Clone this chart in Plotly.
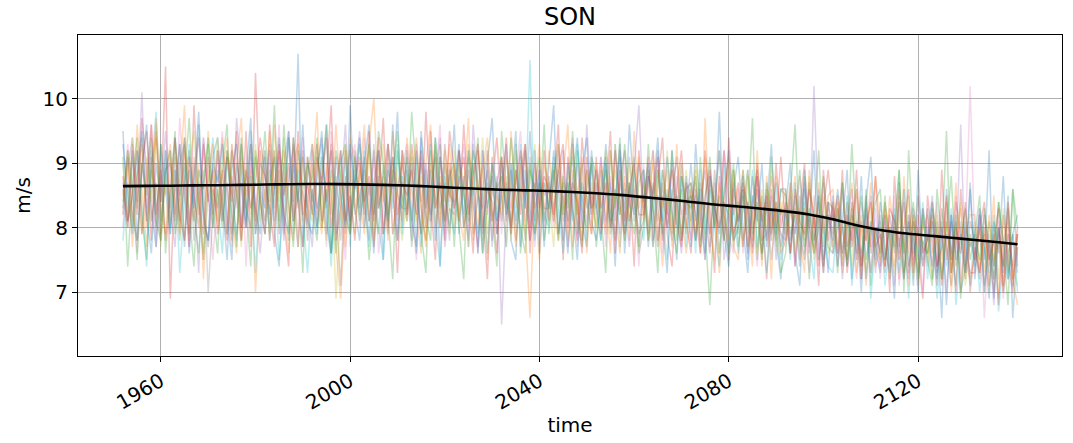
import plotly.graph_objects as go

years = list(range(1952, 2142))

member_01 = [9.5, 8.1, 9.2, 7.8, 8.9, 9.6, 8.3, 7.7, 9.3, 8.6,
             7.9, 9.4, 8.5, 9.0, 7.6, 8.7, 9.8, 8.2, 7.8, 9.1,
             9.4, 8.4, 7.5, 8.9, 9.3, 8.0, 8.8, 9.7, 7.9, 8.6,
             8.3, 9.2, 7.9, 7.4, 9.0, 9.5, 8.4, 10.7, 7.7, 8.8,
             9.3, 8.0, 8.6, 9.6, 7.6, 8.4, 9.2, 7.9, 9.9, 8.3,
             7.8, 9.0, 9.6, 8.2, 8.8, 7.5, 9.3, 8.6, 9.8, 8.0,
             9.2, 8.1, 7.7, 9.5, 8.6, 8.2, 9.4, 7.4, 9.0, 8.5,
             9.6, 7.9, 8.8, 7.7, 9.3, 8.5, 7.6, 9.0, 9.7, 8.1,
             8.6, 9.3, 7.8, 7.5, 9.1, 8.3, 9.5, 8.1, 8.9, 7.7,
             9.0, 9.9, 7.9, 8.5, 7.6, 8.7, 9.4, 8.1, 7.7, 9.2,
             8.3, 7.8, 9.3, 8.6, 7.4, 9.1, 8.0, 9.6, 8.5, 7.7,
             8.9, 7.7, 8.5, 9.4, 8.0, 7.3, 9.2, 8.4, 7.8, 8.8,
             7.7, 9.3, 8.2, 7.5, 8.8, 8.0, 9.8, 7.9, 7.4, 8.6,
             9.1, 8.0, 7.3, 8.4, 8.9, 7.6, 8.3, 9.3, 7.8, 7.2,
             8.3, 9.0, 7.6, 7.1, 8.6, 8.0, 9.2, 7.5, 8.2, 7.3,
             8.5, 7.4, 8.1, 8.9, 7.2, 8.0, 7.0, 8.4, 9.1, 7.7,
             7.3, 8.4, 7.8, 6.9, 8.7, 7.6, 8.1, 7.1, 8.9, 7.5,
             8.3, 7.2, 7.9, 6.6, 8.6, 7.5, 8.1, 7.0, 7.4, 8.7,
             7.2, 8.2, 7.5, 9.2, 6.9, 8.0, 7.3, 8.5, 6.6, 7.7]

member_02 = [8.2, 9.2, 8.0, 9.6, 8.6, 7.7, 9.0, 9.4, 8.1, 8.8,
             9.3, 8.2, 8.8, 9.9, 7.8, 9.1, 8.4, 7.5, 9.5, 8.6,
             8.1, 9.4, 8.6, 7.7, 9.0, 9.7, 8.0, 8.8, 7.0, 8.5,
             9.2, 7.8, 9.6, 8.6, 8.3, 7.6, 9.0, 9.3, 8.1, 8.5,
             8.8, 9.8, 8.0, 8.6, 9.2, 7.7, 6.9, 8.3, 9.4, 9.0,
             8.5, 7.9, 9.3, 10.0, 8.3, 8.8, 7.8, 9.5, 8.6, 8.1,
             9.4, 8.6, 8.2, 7.6, 9.0, 9.6, 8.0, 8.8, 8.4, 9.3,
             8.0, 9.2, 8.6, 9.7, 7.8, 8.5, 9.0, 7.5, 8.8, 9.4,
             8.5, 7.7, 9.5, 8.3, 9.0, 8.0, 6.6, 8.6, 9.3, 8.2,
             9.2, 8.3, 7.8, 8.8, 9.6, 7.7, 8.5, 9.0, 7.6, 8.7,
             8.0, 9.0, 8.5, 7.6, 9.3, 8.2, 8.7, 7.8, 9.5, 8.3,
             8.7, 7.8, 9.2, 8.3, 7.4, 8.5, 8.0, 9.3, 8.2, 7.6,
             8.2, 8.9, 7.6, 9.7, 7.9, 8.5, 7.3, 8.4, 9.1, 7.7,
             7.5, 8.6, 8.1, 7.4, 9.2, 7.8, 8.4, 7.2, 8.8, 8.2,
             8.6, 7.6, 8.3, 7.8, 7.3, 8.9, 8.0, 8.5, 7.4, 8.2,
             7.7, 8.4, 7.3, 8.1, 8.7, 7.5, 8.2, 7.1, 8.0, 8.8,
             8.0, 7.4, 8.5, 7.8, 7.2, 8.8, 7.6, 8.2, 7.1, 8.3,
             7.4, 8.4, 7.7, 7.1, 8.1, 7.5, 8.7, 7.0, 7.9, 8.2,
             8.2, 7.3, 7.9, 7.4, 8.5, 6.9, 7.8, 8.1, 7.2, 6.8]

member_03 = [9.1, 7.4, 8.7, 9.4, 8.2, 7.5, 9.1, 8.0, 9.3, 7.6,
             8.5, 9.5, 7.8, 8.8, 9.7, 8.2, 7.6, 8.7, 9.4, 8.3,
             7.6, 9.0, 9.6, 7.9, 8.5, 9.3, 8.3, 7.4, 9.2, 8.6,
             9.5, 8.4, 9.9, 8.1, 9.0, 7.8, 9.4, 8.6, 7.3, 9.1,
             8.3, 7.8, 8.8, 9.6, 8.5, 7.6, 9.0, 9.3, 8.0, 8.6,
             9.3, 8.6, 7.5, 8.3, 9.5, 9.0, 8.2, 7.2, 9.2, 8.5,
             8.1, 9.8, 8.8, 7.9, 7.3, 9.2, 8.3, 9.3, 8.0, 8.8,
             9.0, 8.0, 7.2, 9.2, 8.5, 9.4, 7.8, 8.7, 8.2, 7.4,
             9.5, 8.6, 8.1, 9.3, 7.6, 8.5, 9.0, 7.9, 8.3, 9.6,
             7.9, 8.8, 9.3, 8.2, 8.7, 7.5, 9.2, 8.3, 8.0, 9.1,
             8.8, 8.2, 7.3, 9.2, 8.3, 9.4, 7.8, 8.5, 9.1, 7.6,
             8.0, 9.3, 8.3, 7.3, 8.9, 8.2, 9.2, 7.8, 8.6, 7.9,
             8.7, 7.8, 9.1, 8.0, 6.8, 8.4, 9.2, 8.2, 7.6, 8.9,
             7.9, 8.9, 8.2, 9.7, 7.5, 8.5, 7.8, 9.1, 8.1, 7.3,
             7.6, 8.5, 9.6, 7.8, 8.8, 7.2, 8.2, 9.2, 7.7, 8.4,
             8.3, 7.3, 8.7, 7.7, 9.3, 8.0, 7.4, 8.6, 7.1, 8.0,
             7.6, 8.5, 7.2, 8.0, 8.9, 7.0, 9.2, 7.8, 7.3, 8.2,
             7.5, 7.1, 8.6, 7.8, 9.5, 7.3, 8.2, 6.9, 8.0, 7.7,
             7.9, 8.5, 7.0, 8.1, 7.4, 8.4, 7.7, 6.8, 8.6, 7.4]

member_04 = [8.6, 8.0, 9.3, 8.2, 9.7, 8.9, 7.8, 9.5, 8.4, 10.5,
             6.9, 8.9, 8.1, 9.4, 7.7, 9.9, 8.4, 7.9, 9.1, 8.2,
             9.2, 8.3, 7.8, 9.3, 8.6, 8.0, 9.5, 7.7, 10.4, 8.4,
             7.9, 9.6, 8.6, 9.2, 8.1, 7.4, 9.4, 8.4, 7.7, 9.1,
             8.4, 9.3, 8.1, 8.8, 9.9, 7.8, 8.3, 9.2, 7.9, 8.7,
             9.1, 8.2, 9.5, 7.7, 8.6, 9.7, 8.0, 8.9, 7.3, 9.2,
             8.2, 9.3, 8.6, 7.9, 9.8, 8.4, 7.5, 9.1, 8.1, 9.5,
             8.9, 8.1, 9.6, 8.4, 7.6, 9.2, 8.3, 7.2, 9.1, 7.9,
             8.5, 9.4, 7.9, 8.9, 8.2, 9.3, 7.6, 8.7, 8.0, 9.2,
             8.1, 8.7, 9.6, 7.5, 9.1, 8.3, 7.8, 9.4, 8.5, 7.9,
             9.1, 7.9, 8.5, 9.5, 7.6, 8.9, 8.1, 8.7, 7.4, 9.2,
             8.3, 9.1, 7.8, 8.7, 9.4, 7.9, 7.4, 8.6, 9.2, 8.1,
             7.6, 8.6, 8.0, 9.2, 8.3, 7.3, 8.8, 7.8, 9.4, 8.2,
             8.7, 7.7, 8.4, 7.8, 9.0, 8.2, 7.2, 8.6, 8.0, 9.1,
             7.9, 8.7, 7.4, 8.3, 9.0, 7.6, 8.2, 7.1, 8.9, 7.8,
             8.4, 7.6, 8.9, 7.3, 8.0, 8.6, 7.2, 8.3, 7.7, 8.8,
             7.4, 8.2, 7.0, 8.8, 7.7, 8.4, 7.3, 8.1, 7.6, 6.9,
             8.5, 7.8, 7.1, 8.9, 7.5, 8.1, 7.0, 8.6, 7.7, 7.3,
             7.3, 8.0, 8.4, 7.1, 7.9, 6.8, 8.2, 7.5, 7.0, 7.9]

member_05 = [8.0, 8.9, 9.4, 8.4, 10.1, 8.1, 9.2, 7.7, 8.6, 9.5,
             8.3, 7.7, 9.0, 9.3, 8.1, 8.7, 7.3, 9.4, 8.5, 8.0,
             9.2, 8.1, 8.7, 7.8, 9.7, 8.9, 8.0, 9.1, 8.3, 7.6,
             8.6, 9.3, 8.1, 8.9, 7.8, 9.5, 8.4, 7.7, 9.1, 8.3,
             7.7, 8.9, 9.4, 8.3, 9.2, 7.9, 8.6, 9.6, 8.1, 8.8,
             9.5, 8.4, 7.8, 9.2, 8.3, 8.8, 9.3, 7.9, 8.6, 9.0,
             8.6, 7.8, 9.3, 8.4, 9.0, 8.1, 8.8, 9.4, 7.7, 8.3,
             8.2, 9.2, 8.5, 7.8, 9.6, 8.6, 7.9, 9.0, 7.7, 8.8,
             6.5, 8.3, 9.0, 8.1, 8.7, 9.3, 7.8, 8.5, 8.9, 8.0,
             8.8, 8.1, 8.6, 9.2, 7.7, 8.5, 9.0, 8.0, 9.6, 8.3,
             8.5, 9.1, 8.0, 8.7, 8.1, 9.2, 8.3, 7.7, 8.9, 9.9,
             8.2, 8.7, 9.2, 7.8, 8.5, 8.0, 9.0, 8.3, 7.6, 8.7,
             8.5, 7.8, 8.4, 8.9, 7.7, 8.2, 9.2, 7.5, 8.1, 8.7,
             8.1, 8.6, 7.6, 8.3, 8.8, 7.8, 7.9, 8.5, 7.5, 8.3,
             7.8, 8.5, 7.4, 8.2, 8.7, 7.7, 10.2, 8.0, 7.3, 8.4,
             7.6, 8.3, 7.2, 8.0, 8.6, 7.5, 8.1, 7.8, 8.5, 7.3,
             8.2, 7.5, 8.0, 7.1, 8.5, 7.7, 7.2, 8.3, 7.9, 7.4,
             7.9, 8.5, 7.4, 8.1, 7.0, 8.2, 7.6, 9.6, 7.3, 7.8,
             7.5, 8.2, 7.0, 7.8, 6.8, 8.0, 7.4, 8.4, 7.2, 7.7]

member_06 = [8.4, 9.1, 8.2, 7.8, 9.0, 9.5, 8.1, 8.7, 7.9, 8.9,
             9.0, 8.1, 9.3, 8.5, 7.9, 8.8, 9.4, 8.3, 7.7, 8.6,
             8.3, 8.9, 7.9, 9.2, 8.5, 7.8, 8.7, 9.3, 8.1, 9.0,
             8.8, 8.2, 9.2, 7.9, 8.6, 9.4, 8.1, 8.5, 9.2, 7.8,
             8.6, 8.0, 9.1, 8.4, 9.3, 8.3, 7.1, 8.8, 8.1, 9.2,
             8.3, 9.1, 8.1, 8.7, 9.2, 7.9, 8.9, 8.5, 7.8, 9.2,
             8.8, 8.1, 9.2, 8.3, 7.8, 8.6, 9.1, 8.0, 9.3, 8.5,
             8.4, 9.2, 8.0, 8.9, 8.3, 7.7, 8.6, 9.2, 8.1, 8.7,
             9.1, 8.1, 8.9, 7.8, 8.5, 9.2, 8.3, 7.9, 8.7, 8.3,
             8.3, 8.9, 7.9, 8.7, 8.1, 9.3, 8.5, 7.8, 8.9, 8.2,
             8.7, 8.0, 9.0, 8.3, 7.8, 8.7, 9.2, 8.1, 8.5, 7.9,
             8.1, 8.9, 8.3, 7.7, 8.7, 8.0, 8.5, 9.1, 7.8, 8.4,
             8.5, 7.8, 8.7, 8.2, 7.6, 8.9, 8.0, 8.4, 7.5, 8.6,
             8.1, 8.5, 7.7, 8.8, 8.2, 7.6, 8.6, 7.9, 8.4, 7.7,
             8.3, 7.6, 8.5, 7.9, 7.5, 8.7, 7.8, 8.2, 7.3, 8.4,
             7.9, 8.3, 7.4, 8.4, 7.7, 8.1, 7.2, 8.5, 7.6, 8.0,
             7.9, 7.3, 8.2, 7.6, 8.4, 7.2, 8.1, 7.5, 8.5, 7.7,
             7.6, 8.1, 7.3, 8.3, 7.7, 7.1, 8.4, 7.9, 7.2, 8.1,
             7.8, 7.2, 8.2, 7.6, 7.0, 8.0, 7.4, 8.3, 7.1, 7.9]

member_07 = [8.2, 9.3, 8.6, 7.6, 9.0, 8.3, 9.6, 7.9, 8.8, 8.5,
             9.2, 8.0, 9.7, 8.6, 7.7, 9.0, 8.2, 9.4, 8.5, 7.5,
             8.6, 9.5, 7.9, 8.8, 8.3, 9.3, 7.4, 9.0, 8.2, 9.2,
             7.9, 9.0, 8.5, 9.6, 8.0, 8.8, 9.2, 7.7, 9.4, 8.3,
             9.2, 8.2, 8.8, 7.7, 9.5, 8.6, 8.3, 7.5, 9.0, 9.3,
             8.0, 9.4, 8.5, 9.1, 7.6, 8.3, 9.3, 8.6, 8.1, 8.9,
             9.3, 8.3, 7.5, 9.1, 8.5, 8.0, 8.8, 9.6, 7.9, 8.6,
             8.3, 8.8, 9.3, 8.0, 8.6, 7.6, 9.2, 8.2, 8.5, 9.4,
             7.9, 9.2, 8.3, 8.8, 9.5, 8.1, 8.6, 7.7, 9.0, 8.5,
             8.6, 8.0, 9.2, 8.3, 8.8, 9.4, 7.7, 8.5, 8.1, 9.0,
             8.2, 9.1, 7.7, 8.8, 8.5, 7.9, 9.0, 8.3, 8.6, 7.4,
             9.0, 8.0, 8.6, 9.2, 7.6, 8.3, 7.9, 8.8, 8.2, 8.5,
             7.8, 8.7, 8.2, 7.5, 9.0, 8.0, 8.5, 9.2, 7.9, 7.6,
             8.6, 7.6, 8.9, 8.1, 7.4, 8.4, 7.8, 8.8, 8.2, 7.9,
             7.7, 8.4, 7.9, 8.8, 8.1, 7.3, 8.5, 7.6, 8.7, 8.0,
             8.3, 7.4, 8.6, 7.7, 8.0, 7.2, 8.4, 7.9, 7.3, 8.3,
             7.2, 8.1, 7.5, 8.5, 7.1, 7.8, 8.2, 7.4, 8.0, 7.0,
             8.1, 7.4, 8.4, 7.1, 7.9, 7.6, 8.5, 7.2, 7.9, 10.2,
             7.6, 8.3, 6.6, 7.9, 7.2, 8.1, 6.9, 8.0, 7.3, 7.6]

member_08 = [8.7, 8.0, 9.1, 8.3, 9.4, 8.1, 8.9, 8.4, 7.8, 9.2,
             8.3, 9.1, 8.0, 8.7, 9.2, 7.8, 8.5, 8.9, 7.0, 8.2,
             8.9, 8.1, 9.2, 8.5, 7.9, 8.7, 8.3, 9.3, 7.9, 8.5,
             8.1, 8.9, 8.3, 9.1, 7.9, 8.7, 9.3, 8.3, 8.6, 8.0,
             9.0, 8.3, 8.7, 7.9, 8.9, 8.5, 7.8, 8.7, 9.2, 8.2,
             8.5, 8.9, 8.1, 9.3, 8.3, 8.7, 7.9, 9.1, 8.5, 8.3,
             8.3, 9.1, 8.5, 7.9, 8.9, 8.1, 9.2, 8.3, 8.7, 7.8,
             8.9, 8.1, 8.7, 9.1, 7.9, 8.5, 8.3, 8.9, 7.8, 8.7,
             8.1, 8.7, 7.9, 8.9, 8.5, 7.8, 9.1, 8.3, 8.7, 8.1,
             8.7, 8.3, 8.9, 8.1, 8.5, 9.1, 7.9, 8.7, 8.3, 8.5,
             8.3, 8.9, 8.1, 8.5, 7.9, 8.7, 8.3, 9.1, 8.1, 8.5,
             8.5, 7.9, 8.7, 8.1, 8.9, 8.3, 7.8, 8.5, 7.9, 8.7,
             8.1, 8.5, 7.8, 8.4, 7.9, 8.7, 7.6, 8.4, 8.2, 7.8,
             8.4, 7.8, 8.2, 7.7, 8.6, 8.0, 8.4, 7.5, 8.3, 7.9,
             7.8, 8.3, 7.9, 8.5, 7.6, 8.2, 7.8, 8.4, 7.4, 8.1,
             8.2, 7.6, 8.0, 7.5, 8.4, 7.9, 7.6, 8.2, 7.3, 8.0,
             7.6, 8.2, 7.4, 8.0, 7.8, 7.2, 8.2, 7.6, 8.0, 7.4,
             7.9, 7.4, 8.1, 7.2, 7.9, 7.7, 7.1, 8.1, 7.4, 7.9,
             7.5, 8.0, 7.1, 7.8, 7.4, 8.0, 7.0, 7.6, 7.9, 7.3]

member_09 = [9.0, 8.2, 9.4, 8.6, 7.9, 9.1, 8.4, 9.6, 7.7, 8.8,
             8.1, 9.3, 8.6, 7.8, 9.0, 9.5, 8.3, 7.6, 8.9, 8.4,
             9.4, 8.4, 7.9, 9.2, 8.6, 7.7, 9.0, 8.2, 9.3, 8.1,
             8.6, 7.9, 9.2, 8.4, 9.4, 8.0, 8.8, 7.7, 9.1, 8.3,
             8.1, 9.2, 8.5, 7.8, 8.8, 6.9, 8.3, 9.3, 8.6, 7.9,
             8.9, 8.3, 9.2, 7.9, 8.7, 9.3, 8.1, 9.0, 8.4, 7.8,
             8.5, 9.2, 8.1, 8.8, 7.8, 8.6, 9.3, 8.2, 9.0, 7.9,
             9.2, 8.1, 8.7, 7.7, 9.0, 8.5, 9.4, 7.9, 8.6, 8.3,
             8.3, 8.8, 7.8, 9.2, 8.5, 7.9, 8.8, 9.3, 8.1, 8.7,
             8.5, 7.7, 9.0, 8.2, 8.7, 9.2, 8.3, 7.8, 8.9, 8.4,
             8.0, 8.7, 9.2, 8.1, 8.9, 8.3, 7.8, 9.0, 8.4, 7.7,
             8.7, 8.1, 7.7, 8.9, 8.3, 9.2, 7.9, 8.5, 7.8, 8.9,
             8.0, 9.0, 8.3, 7.8, 8.7, 8.1, 7.6, 8.6, 8.9, 7.7,
             8.4, 7.7, 8.8, 8.1, 7.6, 8.6, 8.0, 8.9, 7.7, 8.4,
             7.9, 8.6, 7.6, 8.3, 7.8, 8.8, 7.5, 8.2, 8.5, 7.6,
             7.8, 8.4, 7.5, 8.1, 7.4, 8.6, 7.9, 7.3, 8.3, 7.7,
             7.5, 8.4, 7.8, 7.3, 8.2, 7.6, 8.5, 7.2, 7.9, 8.1,
             7.7, 7.2, 8.2, 7.5, 8.1, 7.3, 7.9, 8.4, 7.1, 7.8,
             8.1, 7.4, 7.9, 7.0, 8.0, 7.2, 8.3, 7.6, 7.4, 7.1]

member_10 = [7.8, 8.7, 8.0, 9.2, 8.3, 7.4, 8.9, 9.8, 8.1, 9.0,
             7.9, 8.9, 7.3, 8.4, 9.3, 8.1, 8.7, 7.5, 8.6, 9.4,
             8.4, 7.6, 9.1, 8.2, 7.8, 9.0, 8.1, 8.8, 7.3, 8.6,
             9.2, 8.0, 8.7, 7.5, 8.4, 9.4, 7.9, 8.9, 8.2, 7.3,
             8.6, 7.9, 9.3, 8.3, 7.4, 8.8, 8.0, 9.1, 7.7, 8.9,
             8.2, 9.2, 7.7, 8.7, 8.0, 7.5, 9.0, 8.3, 9.3, 7.9,
             8.9, 8.0, 9.1, 7.7, 8.5, 9.3, 8.1, 7.4, 8.8, 8.3,
             7.9, 8.8, 8.2, 9.2, 8.4, 7.9, 8.6, 7.6, 9.0, 8.1,
             8.5, 7.7, 9.0, 8.0, 9.3, 8.3, 10.6, 7.8, 8.8, 8.2,
             8.0, 9.1, 8.3, 7.6, 8.7, 8.1, 9.3, 8.5, 7.8, 9.0,
             8.4, 7.8, 9.0, 8.1, 9.3, 7.7, 8.6, 8.0, 8.9, 8.2,
             7.8, 8.8, 8.0, 9.2, 8.2, 7.5, 8.6, 8.0, 9.0, 7.7,
             8.5, 7.6, 8.9, 7.9, 8.6, 8.0, 7.4, 9.0, 7.7, 8.3,
             7.6, 8.6, 7.9, 8.9, 7.7, 8.3, 7.3, 8.1, 8.7, 7.5,
             8.3, 7.5, 8.7, 7.6, 8.4, 7.8, 7.2, 8.6, 8.0, 7.4,
             7.3, 8.2, 7.6, 8.5, 7.1, 8.0, 7.5, 8.4, 6.9, 7.8,
             8.1, 7.1, 7.8, 8.3, 7.3, 7.9, 6.9, 8.1, 7.5, 8.4,
             7.2, 8.1, 6.9, 7.8, 7.4, 8.3, 6.8, 7.6, 8.1, 7.1,
             8.0, 7.0, 7.7, 7.3, 8.2, 6.7, 7.5, 7.2, 7.9, 7.0]

member_11 = [9.3, 8.5, 7.9, 8.8, 9.5, 8.2, 7.6, 9.0, 8.4, 9.2,
             8.0, 8.6, 9.3, 7.7, 8.9, 8.3, 9.6, 8.1, 7.8, 9.0,
             8.7, 9.3, 8.2, 7.5, 9.0, 8.6, 8.0, 9.5, 8.3, 7.9,
             9.1, 7.8, 8.6, 9.4, 8.2, 7.9, 9.0, 8.4, 9.6, 8.1,
             7.9, 8.8, 9.5, 8.1, 7.6, 9.1, 8.5, 8.0, 9.3, 8.6,
             9.4, 8.0, 8.7, 7.6, 9.2, 8.5, 8.1, 9.6, 7.8, 8.8,
             8.2, 9.0, 7.6, 9.4, 8.3, 8.9, 7.8, 9.1, 8.5, 8.0,
             8.6, 9.3, 8.0, 8.4, 9.0, 7.6, 9.2, 8.3, 8.8, 7.9,
             9.0, 8.2, 8.6, 9.5, 7.7, 8.9, 8.0, 9.2, 7.6, 8.7,
             8.3, 9.2, 8.6, 7.8, 9.0, 8.2, 7.5, 8.9, 9.4, 8.1,
             7.8, 8.6, 9.1, 8.0, 8.4, 9.3, 7.6, 8.7, 8.2, 9.0,
             8.4, 9.0, 7.7, 8.5, 8.1, 9.1, 8.3, 7.5, 8.8, 8.2,
             9.0, 8.1, 8.6, 7.6, 8.8, 8.3, 7.9, 8.5, 9.2, 7.8,
             8.0, 8.8, 7.5, 8.5, 8.1, 9.0, 7.7, 8.3, 7.9, 8.6,
             8.6, 7.8, 8.2, 7.4, 8.9, 8.0, 7.7, 8.5, 7.5, 8.2,
             7.8, 8.6, 8.0, 7.4, 8.3, 7.6, 8.8, 7.2, 8.1, 7.5,
             8.4, 7.7, 7.3, 8.2, 7.6, 8.6, 7.4, 7.9, 7.0, 8.3,
             7.8, 8.4, 7.2, 8.0, 6.8, 8.2, 7.5, 7.9, 7.3, 8.6,
             7.4, 8.3, 7.7, 6.9, 8.1, 7.6, 8.8, 7.2, 7.9, 8.2]

member_12 = [8.5, 9.0, 7.7, 8.8, 9.3, 8.0, 8.6, 9.7, 8.3, 7.9,
             9.1, 8.4, 7.9, 9.2, 8.6, 8.1, 9.0, 7.2, 8.7, 9.3,
             8.0, 8.8, 9.4, 8.2, 7.6, 9.1, 8.5, 8.9, 8.0, 9.2,
             8.4, 9.5, 8.0, 8.7, 9.2, 8.3, 7.8, 9.0, 8.5, 8.1,
             9.3, 8.4, 7.9, 9.0, 8.2, 9.6, 8.5, 7.7, 8.9, 8.3,
             8.7, 9.6, 8.2, 7.8, 9.0, 8.4, 9.3, 7.9, 8.6, 9.1,
             8.1, 8.7, 9.4, 8.3, 7.7, 9.0, 8.5, 8.0, 9.2, 8.4,
             9.0, 8.2, 7.8, 9.3, 8.6, 8.0, 8.9, 9.4, 8.1, 8.5,
             8.2, 9.1, 8.6, 7.7, 8.9, 9.3, 8.0, 8.4, 7.5, 9.0,
             8.7, 8.1, 9.3, 8.5, 7.8, 8.9, 8.2, 9.1, 8.4, 7.9,
             9.0, 8.4, 7.9, 9.2, 8.3, 7.6, 8.8, 8.1, 8.5, 9.1,
             8.1, 8.6, 9.0, 7.8, 8.4, 8.9, 7.7, 8.3, 9.0, 8.0,
             8.6, 7.9, 8.3, 9.1, 8.0, 7.5, 8.7, 8.2, 7.8, 8.9,
             8.3, 8.9, 7.7, 8.2, 8.6, 7.4, 8.8, 8.0, 8.4, 7.6,
             7.8, 8.2, 8.8, 7.5, 8.3, 8.0, 7.6, 8.7, 7.9, 8.5,
             8.6, 7.7, 8.1, 7.5, 8.4, 7.3, 8.0, 7.8, 8.7, 7.4,
             7.7, 8.3, 7.9, 7.4, 8.6, 7.8, 7.1, 8.2, 7.7, 8.0,
             8.2, 7.6, 8.0, 7.3, 8.4, 7.0, 7.8, 8.3, 7.5, 7.2,
             7.6, 8.0, 7.3, 8.2, 7.5, 7.8, 7.0, 8.4, 7.2, 7.9]

member_13 = [8.3, 9.2, 8.6, 7.5, 9.0, 8.5, 9.4, 8.1, 7.8, 8.9,
             9.2, 7.9, 8.5, 9.4, 8.2, 7.4, 8.9, 8.6, 9.3, 8.0,
             8.6, 8.0, 9.2, 8.7, 7.7, 9.4, 8.3, 8.0, 9.1, 8.4,
             7.9, 8.7, 9.1, 8.0, 9.6, 8.4, 7.7, 9.2, 8.6, 9.0,
             8.7, 9.4, 8.0, 8.6, 7.6, 9.2, 8.8, 8.2, 7.9, 9.1,
             8.1, 8.6, 9.3, 8.4, 7.9, 9.0, 8.2, 8.8, 9.5, 8.3,
             9.1, 7.7, 8.5, 9.0, 8.2, 7.8, 9.4, 8.6, 8.1, 8.9,
             7.7, 9.0, 8.5, 8.1, 9.2, 8.7, 7.6, 8.3, 9.0, 8.6,
             8.8, 8.3, 9.4, 8.5, 8.0, 7.6, 8.9, 8.6, 9.1, 7.8,
             8.4, 9.0, 7.8, 8.8, 8.3, 9.5, 8.1, 7.7, 8.6, 9.0,
             7.7, 8.5, 8.9, 7.9, 8.6, 8.2, 9.3, 8.4, 7.9, 8.7,
             8.9, 7.8, 8.4, 8.9, 7.9, 8.6, 8.2, 7.6, 8.8, 8.4,
             8.3, 8.8, 7.7, 8.4, 9.1, 8.0, 8.5, 7.8, 8.3, 9.0,
             7.7, 8.3, 8.9, 7.9, 8.4, 7.5, 8.7, 8.2, 7.8, 8.6,
             8.5, 7.9, 8.2, 8.9, 7.7, 8.3, 7.6, 8.0, 8.8, 7.7,
             7.6, 8.0, 8.7, 7.4, 8.2, 7.9, 8.5, 7.5, 8.0, 8.4,
             8.6, 7.5, 8.0, 7.7, 8.9, 7.3, 7.9, 8.4, 7.2, 7.8,
             7.6, 8.3, 7.9, 7.2, 8.0, 8.8, 7.4, 7.8, 8.3, 7.5,
             7.9, 7.5, 8.3, 7.7, 7.2, 8.4, 7.8, 7.3, 8.6, 8.0]

member_14 = [8.8, 8.1, 8.5, 9.2, 7.9, 8.7, 9.6, 8.2, 8.9, 7.8,
             8.6, 9.4, 8.2, 7.8, 9.1, 8.5, 8.0, 9.3, 8.4, 8.9,
             7.9, 8.5, 9.1, 8.4, 9.5, 7.8, 8.9, 8.3, 8.7, 9.4,
             8.8, 8.3, 7.7, 9.3, 8.5, 9.0, 8.1, 9.5, 8.2, 8.7,
             8.2, 9.1, 8.7, 9.4, 8.0, 8.6, 9.2, 8.1, 8.5, 7.8,
             9.0, 8.4, 8.8, 8.1, 9.4, 7.9, 8.6, 9.1, 8.2, 8.7,
             8.5, 8.9, 8.2, 9.2, 8.0, 9.5, 8.3, 8.7, 7.8, 9.0,
             8.3, 8.7, 9.1, 8.2, 8.8, 9.3, 8.0, 8.6, 8.4, 7.6,
             9.1, 8.4, 8.0, 8.7, 9.2, 8.5, 7.8, 9.0, 8.3, 8.8,
             8.6, 8.2, 8.9, 9.3, 8.0, 8.7, 8.4, 7.6, 9.1, 8.3,
             8.9, 8.3, 8.7, 8.0, 9.2, 8.4, 7.9, 8.6, 9.0, 8.2,
             8.2, 8.8, 8.5, 9.1, 7.8, 8.4, 8.9, 8.1, 7.7, 8.6,
             8.7, 8.2, 7.6, 8.5, 8.9, 8.3, 8.0, 9.2, 8.4, 7.9,
             8.2, 8.7, 8.3, 7.6, 8.8, 8.1, 8.5, 7.8, 9.0, 8.0,
             8.4, 7.6, 8.6, 8.1, 7.9, 8.6, 8.2, 7.4, 8.3, 8.9,
             8.1, 8.5, 7.6, 8.2, 7.8, 8.9, 7.4, 8.0, 8.4, 7.7,
             7.9, 7.4, 8.3, 8.1, 7.5, 8.0, 8.6, 7.3, 8.2, 7.6,
             7.8, 8.2, 7.4, 7.7, 8.5, 7.3, 8.0, 7.6, 8.4, 7.0,
             7.7, 7.3, 8.0, 7.5, 7.8, 8.3, 7.1, 7.9, 7.4, 8.0]

mean_years = [1952, 1957, 1962, 1967, 1972, 1977, 1982, 1987, 1992, 1997,
              2002, 2007, 2012, 2017, 2022, 2027, 2032, 2037, 2042, 2047,
              2052, 2057, 2062, 2067, 2072, 2077, 2082, 2087, 2092, 2097,
              2102, 2107, 2112, 2117, 2122, 2127, 2132, 2137, 2141]
mean_values = [8.645, 8.65, 8.652, 8.657, 8.66, 8.665, 8.67, 8.675, 8.678, 8.677,
               8.672, 8.665, 8.655, 8.64, 8.62, 8.605, 8.59, 8.58, 8.57, 8.555,
               8.535, 8.51, 8.475, 8.44, 8.40, 8.36, 8.33, 8.295, 8.255, 8.205,
               8.13, 8.04, 7.965, 7.915, 7.88, 7.845, 7.81, 7.775, 7.745]

members = [member_01, member_02, member_03, member_04, member_05,
           member_06, member_07, member_08, member_09, member_10,
           member_11, member_12, member_13, member_14]
palette = ["#1f77b4", "#ff7f0e", "#2ca02c", "#d62728", "#9467bd",
           "#8c564b", "#e377c2", "#7f7f7f", "#bcbd22", "#17becf"]

x_ticks = [1960, 2000, 2040, 2080, 2120]
y_ticks = [7, 8, 9, 10]

fig = go.Figure()
for i, vals in enumerate(members):
    fig.add_trace(go.Scatter(x=years, y=vals, mode="lines",
                             line=dict(color=palette[i % len(palette)], width=1.5),
                             opacity=0.28, showlegend=False, hoverinfo="skip"))
fig.add_trace(go.Scatter(x=mean_years, y=mean_values, mode="lines",
                         line=dict(color="black", width=2.6, shape="spline"),
                         showlegend=False))

font_family = "DejaVu Sans"
fig.update_layout(
    width=1073, height=443,
    margin=dict(l=78, r=11, t=35, b=87),
    paper_bgcolor="white", plot_bgcolor="white",
    font=dict(family=font_family, size=20, color="black"),
    title=dict(text="SON", x=0.5 * (78 + 1062) / 1073, xanchor="center",
               y=1 - 17 / 443, yanchor="middle",
               font=dict(family=font_family, size=24, color="black")),
)
fig.update_xaxes(
    range=[1942.5, 2150.4], tickvals=x_ticks, ticktext=[str(t) for t in x_ticks],
    tickangle=-30, ticks="outside", ticklen=5, tickcolor="black",
    showline=True, linecolor="black", linewidth=1.2, mirror=True,
    showgrid=True, gridcolor="#b0b0b0", gridwidth=1, zeroline=False,
    title=dict(text="time", font=dict(size=20), standoff=4),
    tickfont=dict(size=20),
)
fig.update_yaxes(
    range=[6.01, 10.99], tickvals=y_ticks, ticktext=[str(t) for t in y_ticks],
    ticks="outside", ticklen=5, tickcolor="black",
    showline=True, linecolor="black", linewidth=1.2, mirror=True,
    showgrid=True, gridcolor="#b0b0b0", gridwidth=1, zeroline=False,
    title=dict(text="m/s", font=dict(size=20), standoff=6),
    tickfont=dict(size=20),
)

fig.write_html("out.html")
